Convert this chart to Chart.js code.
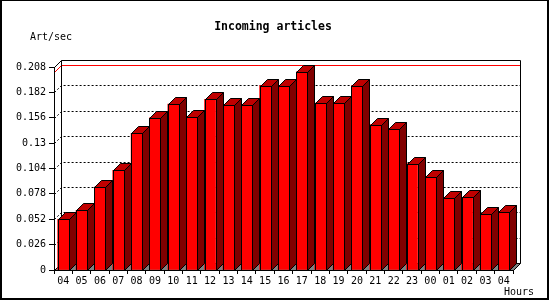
<!DOCTYPE html>
<html>
<head>
<meta charset="utf-8">
<script src="https://cdn.jsdelivr.net/npm/chart.js@4"></script>
<style>
  html, body { margin: 0; padding: 0; background: #fff; }
</style>
</head>
<body>
<canvas id="chart" width="550" height="300"></canvas>
<script>
// Incoming articles per hour

const hours = ['04', '05', '06', '07', '08', '09', '10', '11', '12', '13', '14', '15', '16',
               '17', '18', '19', '20', '21', '22', '23', '00', '01', '02', '03', '04'];
const artPerSec = [0.052, 0.061, 0.085, 0.102, 0.140, 0.156, 0.170, 0.157, 0.175, 0.169, 0.169, 0.189, 0.189,
                   0.203, 0.171, 0.171, 0.189, 0.149, 0.144, 0.109, 0.095, 0.0735, 0.0745, 0.057, 0.059];
const yTicks = [0, 0.026, 0.052, 0.078, 0.104, 0.13, 0.156, 0.182, 0.208];
const yTickLabels = ['0', '0.026', '0.052', '0.078', '0.104', '0.13', '0.156', '0.182', '0.208'];

const DEPTH = 7;
const MONO = "'DejaVu Sans Mono', monospace";

function px(v) { return Math.round(v) + 0.5; }

// walls, floor, grid and texts drawn behind the bars
const backdrop = {
    id: 'backdrop',
    beforeDraw(chart) {
        const ctx = chart.ctx;
        const a = chart.chartArea;
        const y = chart.scales.y;
        const bl = a.left + DEPTH, br = a.right + DEPTH;
        const bt = a.top - DEPTH, bb = a.bottom - DEPTH;

        ctx.save();
        ctx.fillStyle = '#fff';
        ctx.fillRect(0, 0, chart.width, chart.height);

        // outer frame
        ctx.fillStyle = '#000';
        ctx.fillRect(0, 0, 549, 1);
        ctx.fillRect(0, 0, 2, 300);
        ctx.fillRect(547, 0, 2, 300);
        ctx.fillRect(0, 298, 549, 2);

        // texts
        ctx.fillStyle = '#000';
        ctx.textBaseline = 'middle';
        ctx.font = 'bold 11.5px ' + MONO;
        ctx.textAlign = 'center';
        ctx.fillText('Incoming articles', 273, 27);
        ctx.font = '10px ' + MONO;
        ctx.textAlign = 'left';
        ctx.fillText('Art/sec', 30, 37);
        ctx.fillText('Hours', 504, 292);

        // floor
        ctx.beginPath();
        ctx.moveTo(px(a.left), px(a.bottom));
        ctx.lineTo(px(a.right), px(a.bottom));
        ctx.lineTo(px(br), px(bb));
        ctx.lineTo(px(bl), px(bb));
        ctx.closePath();
        ctx.fillStyle = '#808080';
        ctx.fill();
        ctx.strokeStyle = '#000';
        ctx.lineWidth = 1;
        ctx.stroke();

        // dotted grid on back wall and left wall
        ctx.setLineDash([2, 2]);
        yTicks.forEach(v => {
            if (v === 0 || v === yTicks[yTicks.length - 1]) return;
            const yp = y.getPixelForValue(v);
            ctx.beginPath();
            ctx.moveTo(px(a.left), px(yp));
            ctx.lineTo(px(bl), px(yp - DEPTH));
            ctx.lineTo(px(br), px(yp - DEPTH));
            ctx.stroke();
        });
        ctx.setLineDash([]);

        // maximum marker
        const ym = y.getPixelForValue(Math.max(...artPerSec));
        ctx.strokeStyle = '#ff0000';
        ctx.beginPath();
        ctx.moveTo(px(a.left), px(ym));
        ctx.lineTo(px(bl), px(ym - DEPTH));
        ctx.lineTo(px(br), px(ym - DEPTH));
        ctx.stroke();

        // back wall + left wall edges
        ctx.strokeStyle = '#000';
        ctx.beginPath();
        ctx.moveTo(px(bl), px(bb));
        ctx.lineTo(px(bl), px(bt));
        ctx.lineTo(px(br), px(bt));
        ctx.lineTo(px(br), px(bb));
        ctx.moveTo(px(a.left), px(a.top));
        ctx.lineTo(px(bl), px(bt));
        ctx.stroke();
        ctx.restore();
    }
};

// side and top faces of each bar
const extrude = {
    id: 'extrude',
    afterDatasetsDraw(chart) {
        const ctx = chart.ctx;
        const meta = chart.getDatasetMeta(0);
        ctx.save();
        ctx.strokeStyle = '#000';
        ctx.lineWidth = 1;
        meta.data.forEach(bar => {
            const l = px(bar.x - bar.width / 2), r = px(bar.x + bar.width / 2);
            const t = px(bar.y), b = px(bar.base);
            // side
            ctx.beginPath();
            ctx.moveTo(r, t);
            ctx.lineTo(r + DEPTH, t - DEPTH);
            ctx.lineTo(r + DEPTH, b - DEPTH);
            ctx.lineTo(r, b);
            ctx.closePath();
            ctx.fillStyle = '#800000';
            ctx.fill();
            ctx.stroke();
            // top
            ctx.beginPath();
            ctx.moveTo(l, t);
            ctx.lineTo(l + DEPTH, t - DEPTH);
            ctx.lineTo(r + DEPTH, t - DEPTH);
            ctx.lineTo(r, t);
            ctx.closePath();
            ctx.fillStyle = '#c00000';
            ctx.fill();
            ctx.stroke();
            // front outline
            ctx.strokeRect(l, t, r - l, b - t);
        });
        ctx.restore();
    }
};

new Chart(document.getElementById('chart').getContext('2d'), {
    type: 'bar',
    data: {
        labels: hours,
        datasets: [{
            label: 'Art/sec',
            data: artPerSec,
            backgroundColor: '#ff0000',
            borderWidth: 0,
            barThickness: 11
        }]
    },
    options: {
        responsive: false,
        animation: false,
        layout: {
            padding: { left: 0, top: 67, right: 37, bottom: 0 }
        },
        plugins: {
            legend: { display: false },
            tooltip: { enabled: false }
        },
        scales: {
            x: {
                afterFit: function(scale) { scale.height = 30; },
                grid: {
                    drawOnChartArea: false,
                    tickLength: 4,
                    color: '#000'
                },
                border: { display: true, color: '#000' },
                ticks: {
                    color: '#000',
                    autoSkip: false,
                    maxRotation: 0,
                    padding: 1,
                    font: { family: MONO, size: 10 }
                }
            },
            y: {
                min: 0,
                max: 0.208,
                afterFit: function(scale) { scale.width = 54; },
                afterBuildTicks: function(scale) {
                    scale.ticks = yTicks.map(v => ({ value: v }));
                },
                grid: {
                    drawOnChartArea: false,
                    tickLength: 5,
                    color: '#000'
                },
                border: { display: true, color: '#000' },
                ticks: {
                    color: '#000',
                    padding: 3,
                    font: { family: MONO, size: 10 },
                    callback: function(value, index) {
                        return yTickLabels[index];
                    }
                }
            }
        }
    },
    plugins: [backdrop, extrude]
});
</script>
</body>
</html>
